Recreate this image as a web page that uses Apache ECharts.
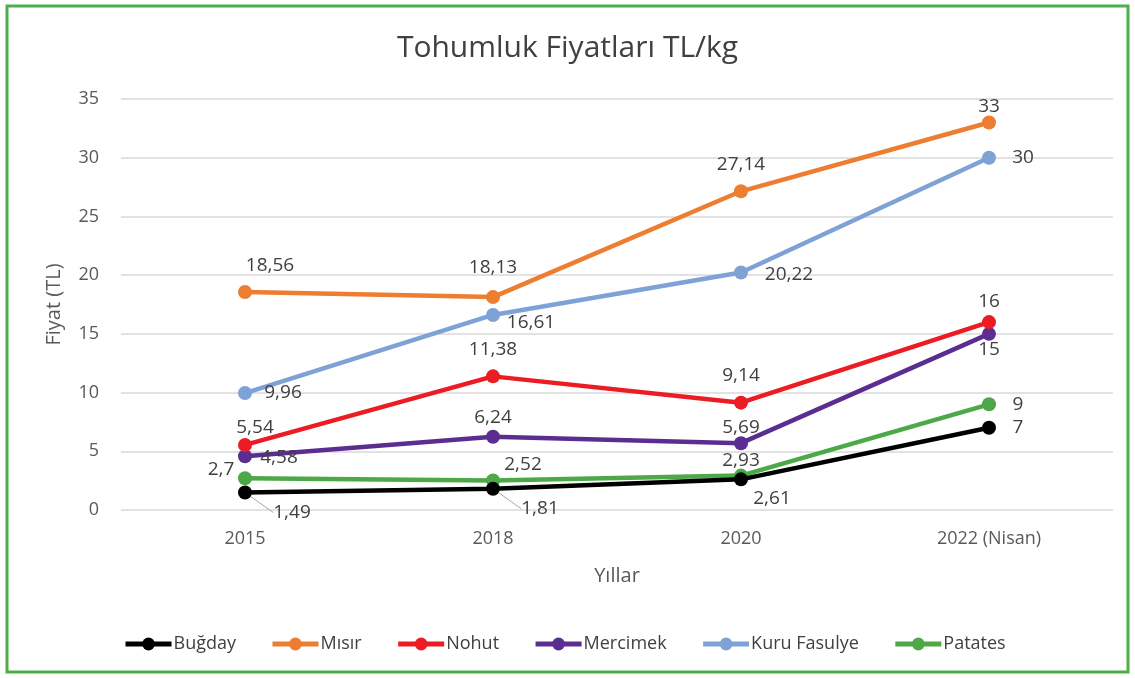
<!DOCTYPE html>
<html>
<head>
<meta charset="utf-8">
<script src="https://cdn.jsdelivr.net/npm/echarts@6/dist/echarts.min.js"></script>
<style>
  html, body { margin: 0; padding: 0; background: #fff; }
  #chart { width: 1135px; height: 678px; }
</style>
</head>
<body>
<div id="chart"></div>
<script>
var years = ['2015', '2018', '2020', '2022 (Nisan)'];

var seriesNames = ['Buğday', 'Mısır', 'Nohut', 'Mercimek', 'Kuru Fasulye', 'Patates'];
var bugday = [1.49, 1.81, 2.61, 7];
var misir = [18.56, 18.13, 27.14, 33];
var nohut = [5.54, 11.38, 9.14, 16];
var mercimek = [4.58, 6.24, 5.69, 15];
var kuruFasulye = [9.96, 16.61, 20.22, 30];
var patates = [2.7, 2.52, 2.93, 9];
var values = [bugday, misir, nohut, mercimek, kuruFasulye, patates];

var colors = ['#000000', '#ED7D31', '#EC1C24', '#5B2D90', '#7EA2D6', '#4DA847'];

// label shifts from the point centre, px
var labelShift = [
    [[47, 20], [47, 20], [31, 19], [29, 0]],
    [[25, -26], [0, -30], [0, -27], [0, -16]],
    [[10, -17], [0, -27], [0, -27], [0, -21]],
    [[34, 1], [0, -19], [0, -16], [0, 16]],
    [[38, 0], [38, 8], [48, 2], [34, 0]],
    [[-24, -9], [30, -16], [0, -15], [29, 0]]
];
var guideLine = [[true, true, false, false], [false, false, false, false],
    [false, false, false, false], [false, false, false, false],
    [false, false, false, false], [false, false, false, false]];

function fmt(v) {
    return String(v).replace('.', ',');
}

var chart = echarts.init(document.getElementById('chart'));

var series = [];
for (var s = 0; s < seriesNames.length; s++) {
    (function (s) {
        series.push({
            name: seriesNames[s],
            type: 'line',
            data: values[s].map(function (v, i) {
                return {
                    value: v,
                    labelLine: { show: guideLine[s][i] }
                };
            }),
            symbol: 'circle',
            symbolSize: 14,
            lineStyle: { width: 4.5, color: colors[s] },
            itemStyle: { color: colors[s] },
            z: 10 - s,
            label: {
                show: true,
                position: 'inside',
                color: '#404040',
                fontSize: 19,
                fontFamily: 'Open Sans',
                formatter: function (p) { return fmt(p.value); }
            },
            labelLine: {
                lineStyle: { color: '#a6a6a6', width: 1 }
            },
            labelLayout: function (p) {
                var d = labelShift[s][p.dataIndex];
                return { dx: d[0], dy: d[1] };
            }
        });
    })(s);
}

var option = {
    backgroundColor: '#fff',
    color: colors,
    animation: false,
    title: {
        text: 'Tohumluk Fiyatları TL/kg',
        left: 'center',
        top: 28,
        textStyle: {
            fontFamily: 'Open Sans',
            fontWeight: 'normal',
            fontSize: 30,
            color: '#404040'
        }
    },
    grid: { left: 121, right: 22, top: 99, bottom: 168 },
    legend: {
        top: 630,
        left: 118,
        itemWidth: 46,
        itemHeight: 16,
        itemGap: 34,
        lineStyle: { width: 5 },
        textStyle: { fontFamily: 'Open Sans', fontSize: 18, color: '#404040', padding: [0, 0, 0, -3] },
        data: seriesNames
    },
    xAxis: {
        type: 'category',
        data: years,
        boundaryGap: true,
        name: 'Yıllar',
        nameLocation: 'middle',
        nameGap: 56,
        nameTextStyle: { fontFamily: 'Open Sans', fontSize: 20, color: '#595959' },
        axisLine: { show: false },
        axisTick: { show: false },
        axisLabel: { fontFamily: 'Open Sans', fontSize: 18, color: '#595959', margin: 20 }
    },
    yAxis: {
        type: 'value',
        min: 0,
        max: 35,
        interval: 5,
        name: 'Fiyat (TL)',
        nameLocation: 'middle',
        nameGap: 57,
        nameTextStyle: { fontFamily: 'Open Sans', fontSize: 20, color: '#595959' },
        axisLine: { show: false },
        axisTick: { show: false },
        axisLabel: { fontFamily: 'Open Sans', fontSize: 18, color: '#595959', margin: 22 },
        splitLine: { lineStyle: { color: '#d9d9d9', width: 1.5 } }
    },
    graphic: [{
        type: 'rect',
        shape: { x: 7, y: 6, width: 1121, height: 666 },
        style: { fill: 'none', stroke: '#4DAF4A', lineWidth: 3 },
        silent: true
    }],
    series: series
};

chart.setOption(option);
</script>
</body>
</html>
